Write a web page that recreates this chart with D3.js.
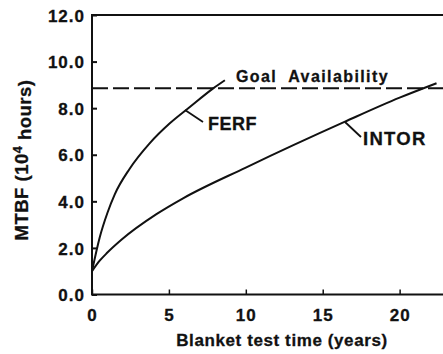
<!DOCTYPE html>
<html>
<head>
<meta charset="utf-8">
<script src="https://cdn.jsdelivr.net/npm/d3@7"></script>
<style>
  body { margin: 0; background: #fff; }
  svg text { font-family: "Liberation Sans", Arial, sans-serif; font-weight: bold; fill: #111; stroke: #111; stroke-width: 0.3px; }
</style>
</head>
<body>
<div id="chart"></div>
<script>
// values
const xTicks = [0, 5, 10, 15, 20];
const yTicks = [0, 2, 4, 6, 8, 10, 12];
const goalValue = 8.85;

// FERF curve (years, 10^4 hours)
const ferfYears = [0, 0.5, 1.0, 1.48, 2.45, 3.76, 5.06, 6.36, 7.88, 8.64];
const ferfMtbf  = [1.0, 2.45, 3.5, 4.3, 5.4, 6.5, 7.35, 8.05, 8.85, 9.2];

// INTOR curve
const intorYears = [0, 0.5, 1.0, 1.91, 4.19, 5.92, 10, 16.45, 20, 22.4];
const intorMtbf  = [1.0, 1.45, 1.8, 2.35, 3.45, 4.13, 5.45, 7.42, 8.45, 9.07];

const W = 443, H = 354;
const padLeft = 92, padTop = 15, axisBottom = 294.5;

const svg = d3.select("#chart").append("svg")
  .attr("width", W).attr("height", H);

const x = d3.scaleLinear().domain([0, 22.82]).range([padLeft, W]);
const y = d3.scaleLinear().domain([0, 12]).range([axisBottom, padTop]);

// frame: left, top, bottom (right edge is cut off)
svg.append("path")
  .attr("d", `M${W},${padTop}H${padLeft}V${axisBottom}H${W}`)
  .attr("fill", "none").attr("stroke", "#111").attr("stroke-width", 2);

// y axis ticks, pointing inward
const yAxis = svg.append("g")
  .attr("transform", `translate(${padLeft},0)`)
  .call(d3.axisRight(y).tickValues(yTicks).tickSize(5).tickFormat(""));
yAxis.select(".domain").remove();
yAxis.selectAll("line").attr("stroke", "#111").attr("stroke-width", 2);

yAxis.selectAll(".tick").append("text")
  .attr("x", -7).attr("dy", "0.36em")
  .attr("text-anchor", "end")
  .style("font-size", "17px").style("letter-spacing", "1px")
  .text(d => d3.format(".1f")(d));

// x axis ticks
const xAxis = svg.append("g")
  .attr("transform", `translate(0,${axisBottom})`)
  .call(d3.axisTop(x).tickValues(xTicks).tickSize(5).tickFormat(""));
xAxis.select(".domain").remove();
xAxis.selectAll("line").attr("stroke", "#111").attr("stroke-width", 1.5);

xAxis.selectAll(".tick").append("text")
  .attr("y", 26)
  .attr("text-anchor", "middle")
  .style("font-size", "17px").style("letter-spacing", "1px")
  .text(d => d);

// axis titles
svg.append("text")
  .attr("x", 282).attr("y", 346)
  .attr("text-anchor", "middle")
  .style("font-size", "17px").style("letter-spacing", "0.6px")
  .text("Blanket test time (years)");

const yt = svg.append("text")
  .attr("transform", "translate(28,160) rotate(-90)")
  .attr("text-anchor", "middle")
  .style("font-size", "18.5px").style("letter-spacing", "0.5px");
yt.append("tspan").text("MTBF (10");
yt.append("tspan").attr("dy", "-0.45em").style("font-size", "12.5px").text("4");
yt.append("tspan").attr("dy", "0.45em").text(" hours)");

// goal line
svg.append("line")
  .attr("x1", padLeft).attr("x2", W)
  .attr("y1", y(goalValue)).attr("y2", y(goalValue))
  .attr("stroke", "#111").attr("stroke-width", 2)
  .attr("stroke-dasharray", "16,5");

svg.append("text")
  .attr("x", 236).attr("y", 82)
  .style("font-size", "16px").style("letter-spacing", "1.4px")
  .attr("xml:space", "preserve")
  .text("Goal  Availability");

// curves
const line = d3.line()
  .x(d => x(d[0])).y(d => y(d[1]))
  .curve(d3.curveMonotoneX);

svg.append("path")
  .datum(d3.zip(ferfYears, ferfMtbf))
  .attr("fill", "none").attr("stroke", "#111").attr("stroke-width", 2)
  .attr("d", line);

svg.append("path")
  .datum(d3.zip(intorYears, intorMtbf))
  .attr("fill", "none").attr("stroke", "#111").attr("stroke-width", 2)
  .attr("d", line);

// callouts
svg.append("line")
  .attr("x1", 185).attr("y1", 110).attr("x2", 203).attr("y2", 122)
  .attr("stroke", "#111").attr("stroke-width", 1.8);
svg.append("text")
  .attr("x", 208).attr("y", 130)
  .style("font-size", "18px").style("letter-spacing", "0.5px")
  .text("FERF");

svg.append("line")
  .attr("x1", 345).attr("y1", 122).attr("x2", 361).attr("y2", 137)
  .attr("stroke", "#111").attr("stroke-width", 1.8);
svg.append("text")
  .attr("x", 363).attr("y", 145)
  .style("font-size", "18.5px").style("letter-spacing", "1.3px")
  .text("INTOR");
</script>
</body>
</html>
